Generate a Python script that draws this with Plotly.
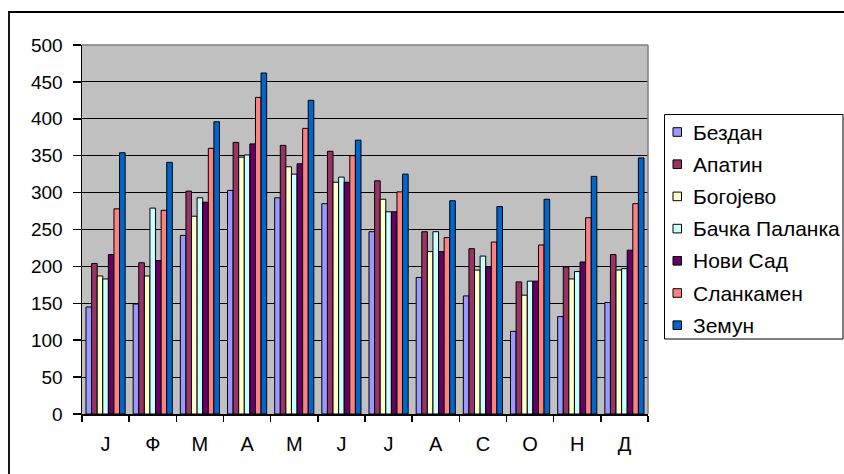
import plotly.graph_objects as go

months = ["J", "Ф", "M", "A", "M ", "J ", "J  ", "A ", "C", "O", "H", "Д"]
month_labels = ["J", "Ф", "M", "A", "M", "J", "J", "A", "C", "O", "H", "Д"]

stations = ["Бездан", "Апатин", "Богојево", "Бачка Паланка", "Нови Сад", "Сланкамен", "Земун"]
colors = ["#9999FF", "#993366", "#FFFFCC", "#CCFFFF", "#660066", "#FF8080", "#0066CC"]

bezdan   = [145, 149, 242, 303, 293, 285, 247, 185, 160, 112, 132, 151]
apatin   = [204, 205, 302, 368, 364, 356, 316, 247, 224, 179, 199, 216]
bogojevo = [187, 187, 268, 348, 335, 314, 291, 220, 195, 161, 183, 195]
backa_pl = [183, 279, 293, 351, 325, 321, 274, 247, 214, 180, 193, 197]
novi_sad = [216, 208, 287, 366, 339, 314, 274, 220, 199, 180, 206, 222]
slankam  = [278, 276, 360, 429, 387, 350, 301, 239, 233, 229, 266, 285]
zemun    = [354, 341, 396, 462, 425, 371, 325, 289, 281, 291, 322, 347]

series = [bezdan, apatin, bogojevo, backa_pl, novi_sad, slankam, zemun]

yticks = [0, 50, 100, 150, 200, 250, 300, 350, 400, 450, 500]

W, H = 844, 474
L, R, T, B = 82, 196, 45, 60
PW, PH = W - L - R, H - T - B

def px(x):
    return (x - L) / PW

def py(y):
    return (H - B - y) / PH

fig = go.Figure()
for name, vals, col in zip(stations, series, colors):
    fig.add_trace(go.Bar(
        x=months, y=vals, name=name, showlegend=False,
        marker=dict(color=col, line=dict(color="black", width=1)),
    ))

shapes = []
annotations = []
# outer chart frame
shapes.append(dict(type="rect", xref="paper", yref="paper",
                   x0=px(9), x1=px(870), y0=py(500), y1=py(12),
                   line=dict(color="black", width=1.8), layer="above"))
# plot area grey border top / right
shapes.append(dict(type="line", xref="paper", yref="paper",
                   x0=0, x1=1, y0=1, y1=1, line=dict(color="#808080", width=1.5), layer="above"))
shapes.append(dict(type="line", xref="paper", yref="paper",
                   x0=1, x1=1, y0=0, y1=1, line=dict(color="#808080", width=1.5), layer="above"))
# legend box
shapes.append(dict(type="rect", xref="paper", yref="paper",
                   x0=px(664.5), x1=px(843), y0=py(339), y1=py(114.5),
                   line=dict(color="black", width=1), fillcolor="white", layer="above"))
row0, step = 132, 32.2
for i, (name, col) in enumerate(zip(stations, colors)):
    cy = row0 + i * step
    shapes.append(dict(type="rect", xref="paper", yref="paper",
                       x0=px(673), x1=px(681.5), y0=py(cy + 4.3), y1=py(cy - 4.3),
                       line=dict(color="black", width=1), fillcolor=col, layer="above"))
    annotations.append(dict(xref="paper", yref="paper", x=px(691), y=py(cy),
                            text=name, showarrow=False, xanchor="left", yanchor="middle",
                            font=dict(family="Liberation Sans, Arial", size=21, color="black")))

fig.update_layout(
    width=W, height=H,
    margin=dict(l=L, r=R, t=T, b=B, pad=0),
    paper_bgcolor="white", plot_bgcolor="#C0C0C0",
    barmode="group", bargap=0.17, bargroupgap=0,
    font=dict(family="Liberation Sans, Arial", size=19, color="black"),
    shapes=shapes, annotations=annotations,
    xaxis=dict(tickmode="array", tickvals=months, ticktext=month_labels,
               tickson="boundaries", ticks="outside", ticklen=6, tickwidth=1.5,
               tickcolor="black", showline=True, linecolor="black", linewidth=1.5,
               showgrid=False, ticklabelstandoff=11, tickfont=dict(size=20),
               fixedrange=True),
    yaxis=dict(range=[0, 500], tickvals=yticks, ticks="outside", ticklen=8,
               tickwidth=1.5, tickcolor="black", showline=True, linecolor="black",
               linewidth=1.5, showgrid=True, gridcolor="black", gridwidth=1,
               zeroline=False, ticklabelstandoff=6, fixedrange=True),
)

fig.write_html(
    "out.html",
    config={"displayModeBar": False, "staticPlot": True},
    post_script="document.body.style.margin='0';document.documentElement.style.overflow='hidden';document.body.style.overflow='hidden';",
)
